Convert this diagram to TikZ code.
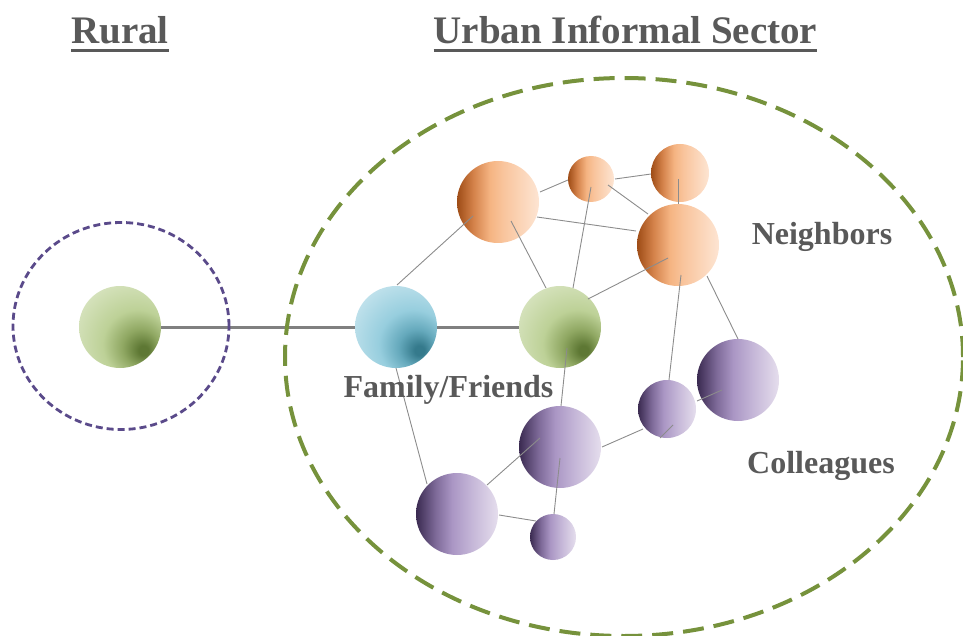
\documentclass[tikz,border=0pt]{standalone}
\usepackage{fontspec}
\setmainfont{Liberation Serif}
\usetikzlibrary{calc,shapes.geometric}
\definecolor{txtgray}{HTML}{595959}
\definecolor{zonegreen}{HTML}{76923C}
\definecolor{zonepurple}{HTML}{5A4A8A}
\definecolor{netgray}{HTML}{8C8C8C}
\definecolor{tiegray}{HTML}{808080}
\definecolor{ordk}{HTML}{9E4C16}
\definecolor{or1}{HTML}{D4824A}
\definecolor{ormd}{HTML}{F5B482}
\definecolor{or2}{HTML}{F9C49C}
\definecolor{orlt}{HTML}{FDE5D3}
\definecolor{pudk}{HTML}{3A2A50}
\definecolor{pu1}{HTML}{7E6A99}
\definecolor{pumd}{HTML}{AA96C4}
\definecolor{pu2}{HTML}{C7B9D9}
\definecolor{pult}{HTML}{E5DEED}
\definecolor{gdk}{HTML}{5E7834}
\definecolor{gm1}{HTML}{8FA762}
\definecolor{gmd}{HTML}{BDD197}
\definecolor{glt}{HTML}{DFE9CB}
\definecolor{bdk}{HTML}{357A8C}
\definecolor{bm1}{HTML}{65A9BC}
\definecolor{bmd}{HTML}{97CEDE}
\definecolor{blt}{HTML}{D0E9F1}
\pgfdeclareradialshading{greenshade}{\pgfpoint{15bp}{-15bp}}{color(0bp)=(gdk); color(3bp)=(gdk); color(11bp)=(gm1); color(21bp)=(gmd); color(42bp)=(glt); color(70bp)=(glt)}
\pgfdeclareradialshading{blueshade}{\pgfpoint{15bp}{-15bp}}{color(0bp)=(bdk); color(3bp)=(bdk); color(11bp)=(bm1); color(21bp)=(bmd); color(42bp)=(blt); color(70bp)=(blt)}
\pgfdeclarehorizontalshading{orshade}{100bp}{color(0bp)=(ordk); color(25bp)=(ordk); color(35bp)=(or1); color(45bp)=(ormd); color(53bp)=(or2); color(75bp)=(orlt); color(100bp)=(orlt)}
\pgfdeclarehorizontalshading{pushade}{100bp}{color(0bp)=(pudk); color(25bp)=(pudk); color(37bp)=(pu1); color(47bp)=(pumd); color(60bp)=(pu2); color(75bp)=(pult); color(100bp)=(pult)}
\begin{document}
\begin{tikzpicture}[x=1pt,y=-1pt,
  ball/.style={circle, inner sep=0pt, minimum size=#1},
  gnode/.style={ball=#1, shade, shading=greenshade},
  bnode/.style={ball=#1, shade, shading=blueshade},
  onode/.style={ball=#1, shade, shading=orshade},
  pnode/.style={ball=#1, shade, shading=pushade},
  net/.style={draw=netgray, line width=0.9pt},
  tie/.style={draw=tiegray, line width=3pt},
  title/.style={text=txtgray, font=\bfseries\fontsize{39}{39}\selectfont, inner sep=0pt, anchor=base},
  lbl/.style={text=txtgray, font=\bfseries\fontsize{32}{32}\selectfont, inner sep=0pt, anchor=base},
  uline/.style={draw=txtgray, line width=2.4pt}]
\useasboundingbox (0,0) rectangle (963,636);

% nodes
\node[gnode=82] (R) at (120,327) {};
\node[bnode=82] (B) at (396,327) {};
\node[gnode=82] (G) at (560,327) {};
\node[onode=82] (O1) at (498,202) {};
\node[onode=46] (O2) at (591,179) {};
\node[onode=58] (O3) at (680,173) {};
\node[onode=82] (O4) at (678,245) {};
\node[pnode=82] (P1) at (560,447) {};
\node[pnode=58] (P2) at (667,409) {};
\node[pnode=82] (P3) at (738,380) {};
\node[pnode=82] (P4) at (457,514) {};
\node[pnode=46] (P5) at (553,537) {};

% strong ties
\draw[tie] (R.east) -- (B.west);
\draw[tie] (B.east) -- (G.west);

% network lines
\draw[net] ($(O1)+(42,-10)$) -- ($(O2)+(-23,1)$);
\draw[net] ($(O2)+(24,0)$) -- ($(O3)+(-29,1)$);
\draw[net] ($(O2)+(17,6)$) -- ($(O4)+(-30,-31)$);
\draw[net] ($(O3)+(-2,6)$) -- ($(O4)+(0,-41)$);
\draw[net] ($(O1)+(39,15)$) -- ($(O4)+(-42,-14)$);
\draw[net] ($(O1)+(13,19)$) -- ($(G)+(-14,-39)$);
\draw[net] ($(O2)+(0,8)$) -- ($(G)+(13,-39)$);
\draw[net] ($(O4)+(-10,13)$) -- ($(G)+(28,-28)$);
\draw[net] ($(O4)+(3,30)$) -- ($(P2)+(2,-29)$);
\draw[net] ($(O4)+(29,31)$) -- ($(P3)+(0,-41)$);
\draw[net] ($(B)+(1,-42)$) -- ($(O1)+(-25,14)$);
\draw[net] ($(B)+(0,41)$) -- ($(P4)+(-30,-30)$);
\draw[net] ($(G)+(7,21)$) -- ($(P1)+(1,-41)$);
\draw[net] ($(P1)+(-20,-9)$) -- ($(P4)+(30,-29)$);
\draw[net] ($(P1)+(42,0)$) -- ($(P2)+(-24,20)$);
\draw[net] ($(P1)+(0,11)$) -- ($(P5)+(1,-23)$);
\draw[net] ($(P4)+(42,1)$) -- ($(P5)+(-17,-16)$);
\draw[net] ($(P2)+(30,-8)$) -- ($(P3)+(-16,10)$);
\draw[net] ($(P2)+(6,16)$) -- ($(P2)+(-7,29)$);

% zones
\node[ellipse, draw=zonepurple, line width=2.8pt, dash pattern=on 7pt off 4pt,
      minimum width=216pt, minimum height=207pt, inner sep=0pt] (ruralzone) at (121,326) {};
\node[ellipse, draw=zonegreen, line width=4pt, dash pattern=on 21pt off 10pt,
      minimum width=678pt, minimum height=558pt, inner sep=0pt] (urbanzone) at (624,357) {};

% titles
\node[title] (rural) at (120,44) {Rural};
\draw[uline] ([yshift=-6.5pt]rural.base west) -- ([yshift=-6.5pt]rural.base east);
\node[title] (urban) at (625.5,44) {Urban Informal Sector};
\draw[uline] ([yshift=-6.5pt]urban.base west) -- ([yshift=-6.5pt]urban.base east);

% labels
\node[lbl] (fam) at (448.5,397) {Family/Friends};
\node[lbl] (nei) at (822,244) {Neighbors};
\node[lbl] (col) at (821,473) {Colleagues};
\end{tikzpicture}
\end{document}
